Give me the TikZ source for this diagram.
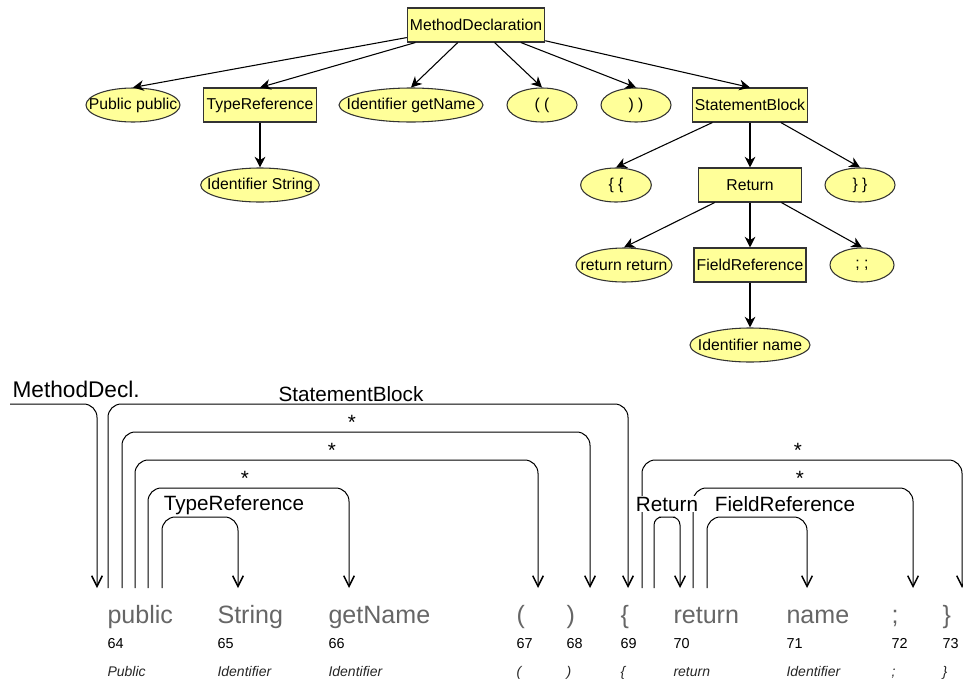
\documentclass[tikz,border=0pt]{standalone}
\usepackage{fontspec}
\setmainfont{Liberation Sans}
\usetikzlibrary{shapes.geometric,arrows.meta}
\definecolor{nodeyellow}{HTML}{FFFF99}
\definecolor{tokgray}{HTML}{666666}

\begin{document}
\begin{tikzpicture}[x=0.75pt,y=-0.75pt,>={Stealth[length=8pt,width=8pt,inset=2.5pt]},
    node distance=60pt,line width=0.8pt,
    box/.style={rectangle,draw=black!80,fill=nodeyellow,minimum width=77pt,minimum height=25.5pt,
        inner xsep=2pt,font=\fontsize{11.8}{13}\selectfont},
    ell/.style={ellipse,draw=black!80,fill=nodeyellow,inner sep=0pt,minimum height=25.5pt,
        font=\fontsize{11.8}{13}\selectfont,
        execute at begin node={\hbox to 0pt\bgroup\hss},execute at end node={\hss\egroup}},
    tok/.style={anchor=base west,inner sep=0pt,text=tokgray,font=\fontsize{18.8}{20}\selectfont},
    num/.style={anchor=base west,inner sep=0pt,font=\fontsize{10.8}{12}\selectfont},
    typ/.style={anchor=base west,inner sep=0pt,text=black!85,font=\fontsize{10.5}{12}\selectfont\itshape},
    lab/.style={anchor=base,fill=white,inner sep=0.6pt,font=\fontsize{15.5}{17}\selectfont},
    star/.style={lab,fill=none},
    link/.style={line width=0.75pt,rounded corners=10pt},
    barb/.style={-{Straight Barb[length=8pt,width=8pt,line width=1.1pt]}}]
  \useasboundingbox (0,0) rectangle (963,682);

  % Tree nodes
  \node[box] (md) at (476,25) {MethodDeclaration};
  \node[ell,minimum width=70.5pt] (pp) at (133,105) {Public public};
  \node[box,minimum width=84.75pt] (tr) at (260,105) {TypeReference};
  \node[ell,minimum width=89pt] (is) [below of=tr] {Identifier String};
  \node[ell,minimum width=108pt] (ig) at (411,105) {Identifier getName};
  \node[ell,minimum width=52.5pt] (lp) at (542,105) {( (};
  \node[ell,minimum width=52.5pt] (rp) at (636,105) {) )};
  \node[box,minimum width=86pt] (sb) at (750,105) {StatementBlock};
  \node[ell,minimum width=53pt] (lb) at (616,185) {\{ \{};
  \node[box] (ret) [below of=sb] {Return};
  \node[ell,minimum width=52.5pt] (rb) at (860,185) {\} \}};
  \node[ell,minimum width=72pt] (rr) at (624,265) {return return};
  \node[box,minimum width=84pt] (fr) [below of=ret] {FieldReference};
  \node[ell,minimum width=48pt] (sc) at (862,265) {; ;};
  \node[ell,minimum width=90pt] (in) [below of=fr] {Identifier name};

  % Tree edges
  \draw[->] (md) -- (pp.north);
  \draw[->] (md) -- (tr.north);
  \draw[->] (md) -- (ig.north);
  \draw[->] (md) -- (lp.north);
  \draw[->] (md) -- (rp.north);
  \draw[->] (md) -- (sb.north);
  \draw[->] (tr) -- (is);
  \draw[->] (sb) -- (lb.north);
  \draw[->] (sb) -- (ret);
  \draw[->] (sb) -- (rb.north);
  \draw[->] (ret) -- (rr.north);
  \draw[->] (ret) -- (fr);
  \draw[->] (ret) -- (sc.north);
  \draw[->] (fr) -- (in);

  % Tokens
  \foreach \i/\x/\w/\t in {64/107/public/Public, 65/217/String/Identifier,
      66/328/getName/Identifier, 67/516/{(}/{(}, 68/566/{)}/{)}, 69/620/{\{}/{\{},
      70/673/return/return, 71/786/name/Identifier, 72/891/{;}/{;}, 73/942/{\}}/{\}}}
  {
    \node[tok] (t\i) at (\x,623) {\w};
    \node[num] (n\i) at (\x,648) {\i};
    \node[typ] (y\i) at (\x,676) {\t};
  }

  % Arcs
  \coordinate (md-a) at (10,404);
  \coordinate (md-b) at (97,588);
  \draw[link,barb] (md-a) -| (md-b);
  \foreach \n/\l/\r/\t in {sb/108/628/404, s1/122/590/432, s2/135/538/460, s3/148/349/488,
      tp/162/238/517, s4/642/962/460, s5/693/913/488, fd/707/807/517}
  {
    \coordinate (\n-a) at (\l,588);
    \coordinate (\n-b) at (\r,588);
    \draw[link,barb] (\n-a) |- ({(\l+\r)/2},\t) -| (\n-b);
  }
  \coordinate (rt-a) at (654,588);
  \coordinate (rt-b) at (680,588);
  \draw[link,barb,rounded corners=6pt] (rt-a) |- (667,517) -| (rt-b);

  % Arc labels
  \node[lab,anchor=base west,fill=none,inner sep=0pt,font=\fontsize{17}{19}\selectfont] (mdl) at (12,397) {MethodDecl.};
  \node[lab] (sbl) at (351,401) {StatementBlock};
  \node[star] (st1) at (352,429) {*};
  \node[star] (st2) at (332,457) {*};
  \node[star] (st3) at (245,485) {*};
  \node[star] (st4) at (798,457) {*};
  \node[star] (st5) at (800,485) {*};
  \node[lab] (tpl) at (234,510) {TypeReference};
  \node[lab] (rtl) at (667,511) {Return};
  \node[lab] (fdl) at (785,511) {FieldReference};
\end{tikzpicture}
\end{document}
